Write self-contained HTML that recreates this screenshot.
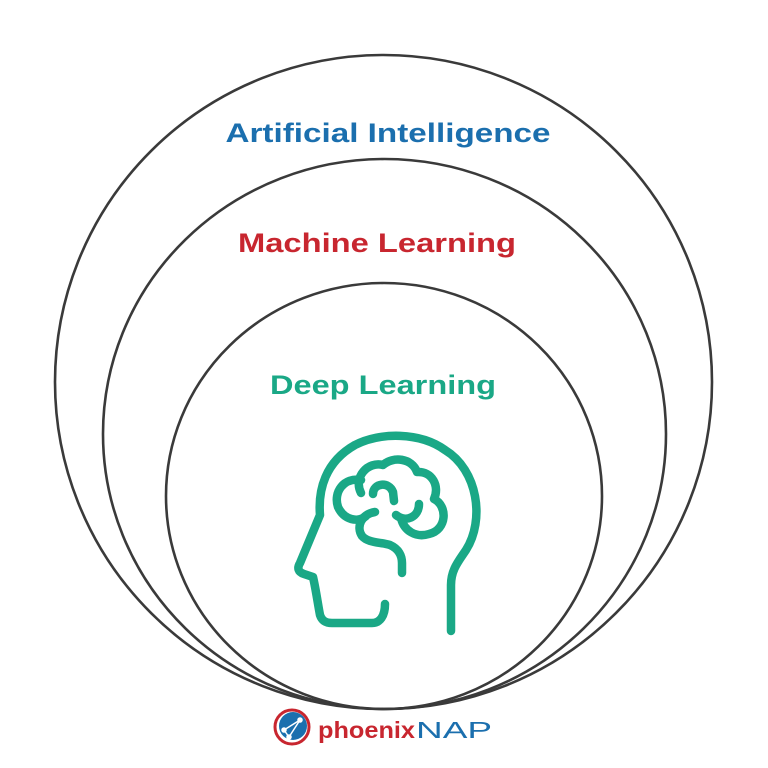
<!DOCTYPE html>
<html><head><meta charset="utf-8"><style>
html,body{margin:0;padding:0;background:#fff;}
svg{display:block;}
text{font-family:"Liberation Sans",sans-serif;font-weight:bold;}
</style></head><body>
<svg width="768" height="768" viewBox="0 0 768 768" xmlns="http://www.w3.org/2000/svg">
<g fill="none" stroke="#3a3a3a" stroke-width="2.6">
<ellipse cx="383.5" cy="382" rx="328.5" ry="327"/>
<ellipse cx="384.5" cy="434" rx="281.5" ry="275"/>
<ellipse cx="384" cy="496" rx="218" ry="213"/>
</g>
<text x="388" y="142" text-anchor="middle" fill="#1b6fae" font-size="27" textLength="325" lengthAdjust="spacingAndGlyphs">Artificial Intelligence</text>
<text x="377" y="252" text-anchor="middle" fill="#c8262f" font-size="27" textLength="278" lengthAdjust="spacingAndGlyphs">Machine Learning</text>
<text x="383" y="394" text-anchor="middle" fill="#1aa886" font-size="27" textLength="226" lengthAdjust="spacingAndGlyphs">Deep Learning</text>
<g fill="none" stroke="#1aa886" stroke-width="8.5" stroke-linecap="round" stroke-linejoin="round">
<path d="M451,631 L451,585 C451,570 458,562 466,550 C485,520 478,470 445,450 C420,432 380,432 355,445 C325,462 318,490 320,515 L300,563 C297,568 298,572 304,574 L313,577 C316,590 318,605 320,615 C322,621 326,623 332,623 L372,623 C380,623 385,616 385,604"/>
<path d="M361,493 C353,477 368,461 383,465 C393,456 412,458 417,472 C432,471 440,486 434,499 C448,506 447,530 429,534 C416,538 404,531 401,518"/>
<path d="M361,480 C344,477 333,492 338,507 C344,520 358,523 366,516"/>
<path d="M375,512 C361,514 356,527 362,536 C368,543 380,542 390,545 C399,549 402,556 402,563 L402,573"/>
<path d="M373,494 C373,483 389,481 393,492 L394,501"/>
<path d="M396,515 C406,523 419,517 419,504"/>
</g>
<g>
<circle cx="292" cy="727" r="17" fill="none" stroke="#c8262f" stroke-width="3"/>
<circle cx="293" cy="726" r="14" fill="#1b6fae"/>
<g stroke="#fff" stroke-width="1.5" fill="#fff">
<line x1="284" y1="730" x2="300" y2="720"/><line x1="284" y1="730" x2="289" y2="737"/><line x1="300" y1="720" x2="289" y2="737"/>
<circle cx="284" cy="730" r="2"/><circle cx="300" cy="720" r="2"/><circle cx="289" cy="737" r="2"/>
</g>
<text x="318" y="738" fill="#c8262f" font-size="23" textLength="97" lengthAdjust="spacingAndGlyphs">phoenix</text>
<text x="416" y="738" fill="#1b6fae" font-size="23" style="font-weight:normal" textLength="76" lengthAdjust="spacingAndGlyphs">NAP</text>
</g>
</svg>
</body></html>
